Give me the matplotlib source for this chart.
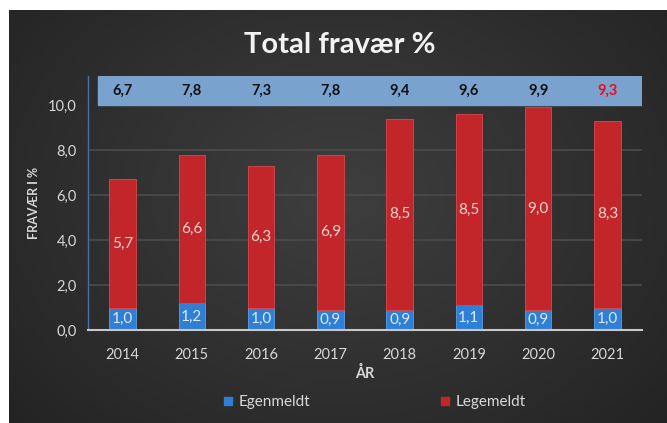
import numpy as np
import matplotlib
matplotlib.use("Agg")
import matplotlib.pyplot as plt
from matplotlib.lines import Line2D

years = ["2014", "2015", "2016", "2017", "2018", "2019", "2020", "2021"]
egenmeldt = [1.0, 1.2, 1.0, 0.9, 0.9, 1.1, 0.9, 1.0]
legemeldt = [5.7, 6.6, 6.3, 6.9, 8.5, 8.5, 9.0, 8.3]
total = [6.7, 7.8, 7.3, 7.8, 9.4, 9.6, 9.9, 9.3]
yticks = [0, 2, 4, 6, 8, 10]

plt.rcParams['font.family'] = ['Lato', 'DejaVu Sans']

W, H = 667, 423
fig = plt.figure(figsize=(W / 100, H / 100), dpi=100)
fig.patch.set_facecolor('white')

# background with radial gradient
bg = fig.add_axes([9 / W, 0, 1 - 9 / W, 1 - 10 / H])
bg.set_axis_off()
yy, xx = np.mgrid[0:200, 0:300]
cx, cy = 150, 90
r = np.sqrt(((xx - cx) / 170.0) ** 2 + ((yy - cy) / 140.0) ** 2)
v = np.clip(0.245 - 0.09 * r, 0.11, 0.26)
img = np.dstack([v, v, v])
bg.imshow(img, aspect='auto', extent=[0, 1, 0, 1], interpolation='bilinear')
bg.set_xlim(0, 1)
bg.set_ylim(0, 1)

ax = fig.add_axes([88 / W, 1 - 330 / H, (642 - 88) / W, (330 - 76) / H])
ax.patch.set_alpha(0)
x = np.arange(len(years))
bw = 0.38

ax.set_xlim(-0.5, 7.5)
ax.set_ylim(0, 11.3)

for yv in [2, 4, 6, 8]:
    ax.axhline(yv, color='#4c4c4c', lw=1.2, zorder=0)

ax.axhspan(10.0, 11.3, xmin=0.018, xmax=1.0, color='#7aa2ce', zorder=1)

ax.bar(x, egenmeldt, bw, color='#2f7fd6', edgecolor='#5aa0e8', lw=0.6, zorder=2)
ax.bar(x, legemeldt, bw, bottom=egenmeldt, color='#c3262a', edgecolor='#d64a4c', lw=0.6, zorder=2)

for i in range(len(years)):
    ax.text(x[i], egenmeldt[i] / 2, f"{egenmeldt[i]:.1f}".replace('.', ','),
            ha='center', va='center', color='#dce9f7', fontsize=11, zorder=3)
    ax.text(x[i], egenmeldt[i] + legemeldt[i] / 2, f"{legemeldt[i]:.1f}".replace('.', ','),
            ha='center', va='center', color='#f3d6d0', fontsize=11, zorder=3)
    col = '#e8101a' if i == len(years) - 1 else '#111111'
    ax.text(x[i], 10.65, f"{total[i]:.1f}".replace('.', ','),
            ha='center', va='center', color=col, fontsize=10.5, fontweight='bold', zorder=3)

ax.set_xticks(x)
ax.set_xticklabels(years)
ax.set_yticks(yticks)
ax.set_yticklabels([f"{t:.1f}".replace('.', ',') for t in yticks])
ax.tick_params(colors='#d8d8d8', labelsize=10.5, length=0)
ax.tick_params(axis='x', pad=13)
ax.tick_params(axis='y', pad=8)
for s in ['top', 'right']:
    ax.spines[s].set_visible(False)
ax.spines['bottom'].set_color('#c8c8c8')
ax.spines['bottom'].set_linewidth(1.5)
ax.spines['left'].set_color('#4a6fa8')
ax.spines['left'].set_linewidth(1.0)

ax.set_xlabel("ÅR", color='#d8d8d8', fontsize=10.5, fontweight='bold', labelpad=3)
ax.set_ylabel("FRAVÆR I %", color='#d8d8d8', fontsize=9, fontweight='bold', labelpad=6)

fig.text(340 / W, 1 - 45 / H, "Total fravær %", ha='center', va='center',
         color='#f2f2f2', fontsize=21, fontweight='bold')

handles = [Line2D([], [], marker='s', ls='', color='#2f7fd6', markersize=6),
           Line2D([], [], marker='s', ls='', color='#c3262a', markersize=6)]
fig.legend(handles, ["Egenmeldt", "Legemeldt"], loc='center', bbox_to_anchor=(373 / W, 1 - 402 / H),
           ncol=2, frameon=False, fontsize=11, labelcolor='#d8d8d8',
           columnspacing=8.3, handletextpad=0.2, handlelength=1)

fig.savefig("out.png", dpi=100, facecolor=fig.get_facecolor())
